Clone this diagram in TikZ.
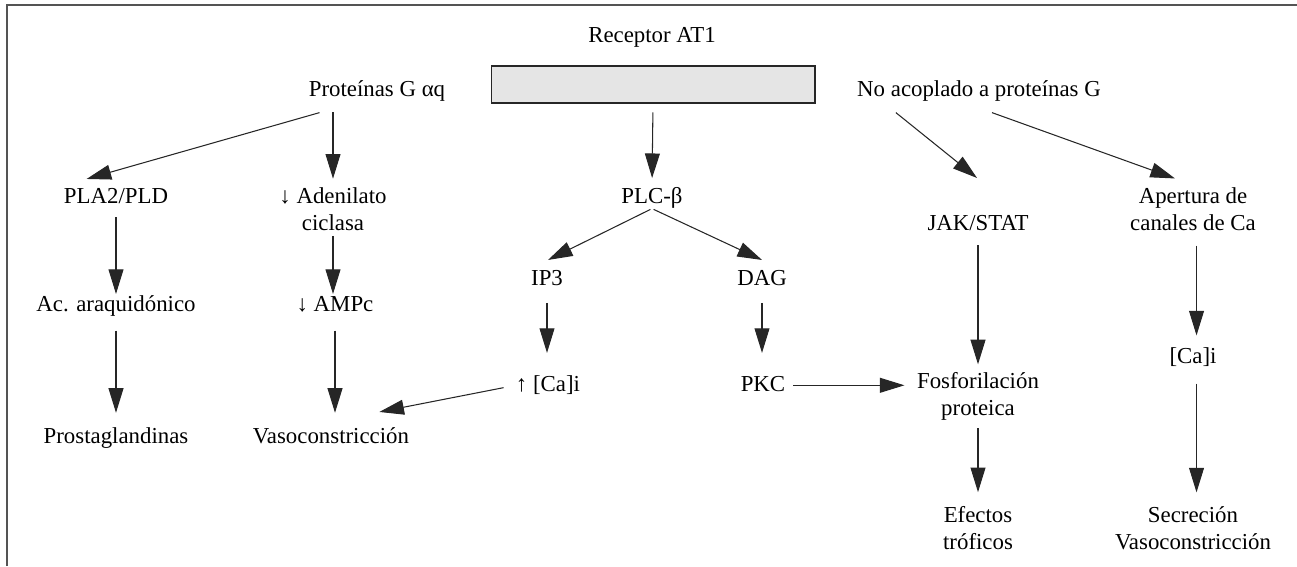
\documentclass[tikz,border=0pt]{standalone}
\usepackage{fontspec}
\setmainfont{Liberation Serif}
\usetikzlibrary{arrows.meta}
\begin{document}
\begin{tikzpicture}[x=0.02cm,y=-0.02cm,
  every node/.style={font=\fontsize{13}{15}\selectfont, inner sep=0pt},
  lbl/.style={anchor=base, text height=9.5pt, text depth=3pt},
  two/.style={anchor=base, align=center},
  arr/.style={-{Triangle[length=14pt,width=8.5pt]}, line width=0.6pt, draw=black!85}]
\useasboundingbox (0,0) rectangle (1297,566);

%frame
\draw[black!67, line width=1.1pt] (7,566) -- (7,5) -- (1297,5);

%receptor
\node[lbl] (rlab) at (652,42.5) {Receptor AT1};
\node[draw=black!85, line width=0.6pt, fill=black!10, minimum width=6.48cm, minimum height=0.74cm] (rec) at (653,84.5) {};
\node[lbl] (prot) at (377,96) {Proteínas G αq};
\node[lbl] (nacop) at (979,96) {No acoplado a proteínas G};

%second row (two-line nodes sit on their last line)
\node[lbl] (pla) at (116,203) {PLA2/PLD};
\node[two] (aden) at (333,230) {↓ Adenilato\\ciclasa};
\node[lbl] (plc) at (652,203) {PLC-β};
\node[lbl] (jak) at (978,230) {JAK/STAT};
\node[two] (apert) at (1193,230) {Apertura de\\canales de Ca};

%third row
\node[lbl] (ip3) at (547,285) {IP3};
\node[lbl] (dag) at (762,285) {DAG};
\node[lbl] (acar) at (116,311) {Ac. araquidónico};
\node[lbl] (ampc) at (335,311) {↓ AMPc};
\node[lbl] (cai) at (1193,363) {[Ca]i};
\node[lbl] (caup) at (548,391) {↑ [Ca]i};
\node[lbl] (pkc) at (763,391) {PKC};
\node[two] (fosfo) at (978,415) {Fosforilación\\proteica};

%last row
\node[lbl] (prost) at (116,443) {Prostaglandinas};
\node[lbl] (vaso) at (331,443) {Vasoconstricción};
\node[two] (efec) at (978,549) {Efectos\\tróficos};
\node[two] (secr) at (1193,549) {Secreción\\Vasoconstricción};

%arrows from the receptor level
\draw[arr] ([shift={(11,11)}]prot.south west) -- ([shift={(23,-7)}]pla.north west);
\draw[arr, shorten <=6pt, shorten >=5pt] (aden.north |- prot.south) -- (aden.north);
\draw[arr, shorten <=5pt, shorten >=4.5pt] (rec.south) -- (plc.north);
\draw[arr] ([shift={(39,11)}]nacop.south west) -- ([shift={(-1,-35)}]jak.north);
\draw[arr] ([shift={(13,11)}]nacop.south) -- ([shift={(-18,-9)}]apert.north);

%left columns
\draw[arr, shorten <=5pt] (pla.south) -- (acar.north);
\draw[arr, shorten <=3pt] (aden.south) -- (aden.south |- ampc.north);
\draw[arr, shorten <=8pt, shorten >=7.5pt] (acar.south) -- (prost.north);
\draw[arr, shorten <=8pt, shorten >=7.5pt] (ampc.south) -- (ampc.south |- vaso.north);

%PLC branch
\draw[arr, shorten <=1pt] (plc.south) -- ([shift={(1,-8)}]ip3.north);
\draw[arr, shorten <=1pt] (plc.south) -- ([shift={(0,-8)}]dag.north);
\draw[arr, shorten <=7pt, shorten >=12pt] (ip3.south) -- (ip3.south |- caup.north);
\draw[arr, shorten <=7pt, shorten >=12pt] (dag.south) -- (dag.south |- pkc.north);
\draw[arr, shorten <=7pt] (caup.west) -- ([shift={(-30,-14)}]vaso.north east);
\draw[arr, shorten <=4.5pt, shorten >=7pt] (pkc.east) -- (pkc.east -| fosfo.west);

%right columns
\draw[arr, shorten <=5.5pt, shorten >=4.5pt] (jak.south) -- (fosfo.north);
\draw[arr, shorten <=4.5pt, shorten >=8pt] (fosfo.south) -- (efec.north);
\draw[arr, shorten <=8.5pt, shorten >=6pt] ([xshift=2pt]apert.south) -- ([xshift=2pt]cai.north);
\draw[arr, shorten <=8.5pt, shorten >=8pt] ([xshift=2pt]cai.south) -- ([xshift=2pt]secr.north);
\end{tikzpicture}
\end{document}
